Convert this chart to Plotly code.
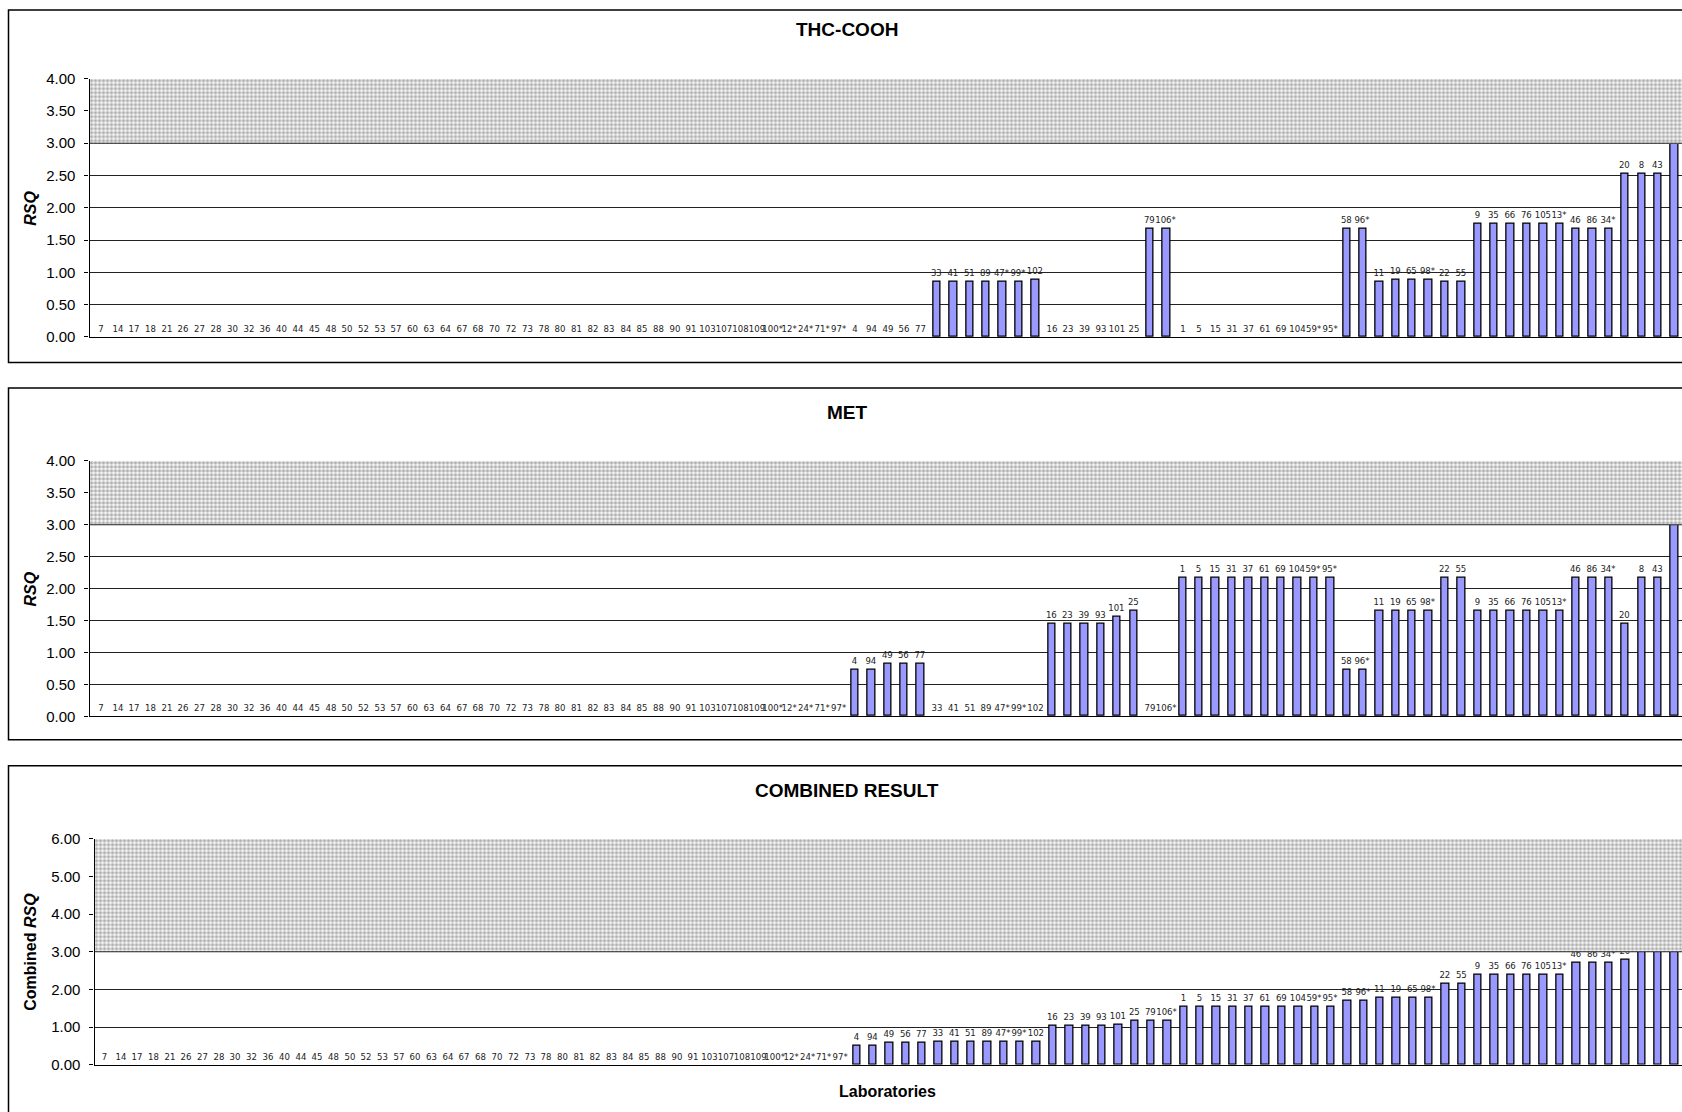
import plotly.graph_objects as go

labs = ["7", "14", "17", "18", "21", "26", "27", "28", "30", "32",
        "36", "40", "44", "45", "48", "50", "52", "53", "57", "60",
        "63", "64", "67", "68", "70", "72", "73", "78", "80", "81",
        "82", "83", "84", "85", "88", "90", "91", "103", "107", "108",
        "109", "100*", "12*", "24*", "71*", "97*",
        "4", "94", "49", "56", "77",
        "33", "41", "51", "89", "47*", "99*", "102",
        "16", "23", "39", "93", "101", "25",
        "79", "106*",
        "1", "5", "15", "31", "37", "61", "69", "104", "59*", "95*",
        "58", "96*",
        "11", "19", "65", "98*",
        "22", "55",
        "9", "35", "66", "76", "105", "13*",
        "46", "86", "34*",
        "20", "8", "43",
        ""]

thc = [0, 0, 0, 0, 0, 0, 0, 0, 0, 0,
       0, 0, 0, 0, 0, 0, 0, 0, 0, 0,
       0, 0, 0, 0, 0, 0, 0, 0, 0, 0,
       0, 0, 0, 0, 0, 0, 0, 0, 0, 0,
       0, 0, 0, 0, 0, 0,
       0, 0, 0, 0, 0,
       0.85, 0.85, 0.85, 0.85, 0.85, 0.85, 0.88,
       0, 0, 0, 0, 0, 0,
       1.68, 1.68,
       0, 0, 0, 0, 0, 0, 0, 0, 0, 0,
       1.68, 1.68,
       0.85, 0.88, 0.88, 0.88,
       0.85, 0.85,
       1.75, 1.75, 1.75, 1.75, 1.75, 1.75,
       1.68, 1.68, 1.68,
       2.53, 2.53, 2.53,
       3.40]

met = [0, 0, 0, 0, 0, 0, 0, 0, 0, 0,
       0, 0, 0, 0, 0, 0, 0, 0, 0, 0,
       0, 0, 0, 0, 0, 0, 0, 0, 0, 0,
       0, 0, 0, 0, 0, 0, 0, 0, 0, 0,
       0, 0, 0, 0, 0, 0,
       0.73, 0.73, 0.82, 0.82, 0.82,
       0, 0, 0, 0, 0, 0, 0,
       1.45, 1.45, 1.45, 1.45, 1.55, 1.65,
       0, 0,
       2.17, 2.17, 2.17, 2.17, 2.17, 2.17, 2.17, 2.17, 2.17, 2.17,
       0.72, 0.72,
       1.65, 1.65, 1.65, 1.65,
       2.17, 2.17,
       1.65, 1.65, 1.65, 1.65, 1.65, 1.65,
       2.17, 2.17, 2.17,
       1.45, 2.17, 2.17,
       3.30]

combined = [0, 0, 0, 0, 0, 0, 0, 0, 0, 0,
            0, 0, 0, 0, 0, 0, 0, 0, 0, 0,
            0, 0, 0, 0, 0, 0, 0, 0, 0, 0,
            0, 0, 0, 0, 0, 0, 0, 0, 0, 0,
            0, 0, 0, 0, 0, 0,
            0.50, 0.50, 0.58, 0.58, 0.58,
            0.60, 0.60, 0.60, 0.60, 0.60, 0.60, 0.62,
            1.03, 1.03, 1.03, 1.03, 1.07, 1.16,
            1.18, 1.18,
            1.54, 1.54, 1.54, 1.54, 1.54, 1.54, 1.54, 1.54, 1.54, 1.54,
            1.69, 1.69,
            1.77, 1.79, 1.79, 1.79,
            2.14, 2.14,
            2.40, 2.40, 2.40, 2.40, 2.40, 2.40,
            2.71, 2.71, 2.71,
            2.80, 3.32, 3.32,
            3.40]

panel_titles = ["THC-COOH", "MET", "COMBINED RESULT"]
y_titles = ["<b><i>RSQ</i></b>", "<b><i>RSQ</i></b>", "<b>Combined <i>RSQ</i></b>"]
y_max = [4, 4, 6]
y_dtick = [0.5, 0.5, 1]
limit = 3

W, H = 1682, 1112
BAR_COLOR = "#9999FF"
LABEL_FONT = dict(family="Liberation Sans Narrow, DejaVu Sans Condensed, Arial Narrow, sans-serif",
                  size=9.5, color="#222")
TXT = "Liberation Sans, Arial, sans-serif"
AX_FONT = dict(family=TXT, size=15, color="black")

# the captured page comes out slightly squeezed vertically; compensate so the
# marks land where they sit in the reference
VS, VO = 0.985, 8.0


def px_x(px):
    return px / W


def px_y(px):
    return 1 - ((px - VO) / VS) / H


# geometry as seen in the reference (pixels)
plot_left = [89.5, 89.5, 94.5]
x_range = [[-0.72, 96.46], [-0.72, 96.46], [-0.61, 96.46]]
plot_top = [77.7, 460, 838]
plot_bot = [336, 715.5, 1064]
box_top = [9, 387, 765]
box_bot = [361.5, 739, 1150]
title_y = [29, 412, 790]

fig = go.Figure()
series = [thc, met, combined]
xs = list(range(len(labs)))

for i in range(3):
    sfx = "" if i == 0 else str(i + 1)
    ov = str(i + 4)
    vals = series[i]
    fig.add_trace(go.Bar(
        x=xs, y=vals, text=labs, textposition="outside",
        textfont=LABEL_FONT, constraintext="none", cliponaxis=False,
        marker=dict(color=BAR_COLOR,
                    line=dict(color="black", width=[1.3 if v > 0 else 0 for v in vals])),
        width=0.45, xaxis="x" + sfx, yaxis="y" + sfx, showlegend=False,
        hoverinfo="y"))
    # shaded region above the limit, drawn over the bars
    fig.add_trace(go.Bar(
        x=[0.5], y=[y_max[i] - limit], base=[limit], width=[1],
        marker=dict(color="white", line=dict(width=0),
                    pattern=dict(shape=".", fgcolor="#5f5f5f", bgcolor="white",
                                 size=4, solidity=0.6)),
        xaxis="x" + ov, yaxis="y" + sfx, showlegend=False, hoverinfo="skip"))

    fig.update_layout(**{
        "xaxis" + sfx: dict(domain=[px_x(plot_left[i]), 1], range=x_range[i],
                            showticklabels=False, ticks="", showgrid=False, zeroline=False,
                            showline=True, linecolor="black", linewidth=1.2,
                            anchor="y" + sfx, fixedrange=True),
        "yaxis" + sfx: dict(domain=[px_y(plot_bot[i]), px_y(plot_top[i])], range=[0, y_max[i]],
                            dtick=y_dtick[i], tickformat=".2f", ticks="outside", ticklen=4,
                            tickcolor="black", showgrid=True, gridcolor="#222", gridwidth=1,
                            zeroline=False, showline=True, linecolor="black", linewidth=1.2,
                            tickfont=AX_FONT, ticklabelstandoff=6,
                            anchor="x" + sfx, fixedrange=True),
        "xaxis" + ov: dict(overlaying="x" + sfx, range=[0, 1], visible=False,
                           anchor="y" + sfx, fixedrange=True),
    })

    fig.add_shape(type="line", xref="x" + sfx, yref="y" + sfx, x0=x_range[i][0], x1=x_range[i][1],
                  y0=limit, y1=limit, line=dict(color="#222", width=1.2), layer="above")
    fig.add_shape(type="rect", xref="paper", yref="paper", x0=px_x(8.5), x1=1.05,
                  y0=px_y(box_bot[i]), y1=min(px_y(box_top[i]), 0.9995),
                  line=dict(color="black", width=1.5), layer="below")
    fig.add_annotation(text="<b>" + panel_titles[i] + "</b>", xref="paper", yref="paper",
                       x=px_x(847), y=px_y(title_y[i]), xanchor="center", yanchor="middle",
                       showarrow=False, font=dict(family=TXT, size=19, color="black"))
    fig.add_annotation(text=y_titles[i], xref="paper", yref="paper",
                       x=px_x(31), y=px_y((plot_top[i] + plot_bot[i]) / 2), textangle=-90,
                       xanchor="center", yanchor="middle", showarrow=False,
                       font=dict(family=TXT, size=16, color="black"))

fig.add_annotation(text="<b>Laboratories</b>", xref="paper", yref="paper",
                   x=px_x(888), y=px_y(1091), xanchor="center", yanchor="middle",
                   showarrow=False, font=dict(family=TXT, size=16, color="black"))

fig.update_layout(width=W, height=H, margin=dict(l=0, r=0, t=0, b=0),
                  paper_bgcolor="white", plot_bgcolor="white", barmode="overlay",
                  bargap=0, showlegend=False)

fig.write_html(
    "out.html", config={"displayModeBar": False},
    post_script=("var s=document.createElement('style');"
                 "s.innerHTML='html,body{margin:0!important;padding:0;overflow:hidden;}';"
                 "document.head.appendChild(s);"))
